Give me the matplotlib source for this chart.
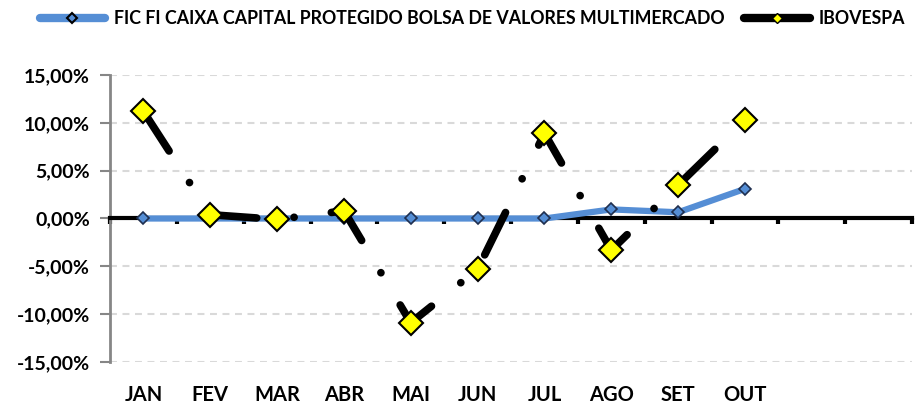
import matplotlib.pyplot as plt
from matplotlib.lines import Line2D
from matplotlib.ticker import FuncFormatter

plt.rcParams['font.family'] = ['Lato', 'DejaVu Sans']
plt.rcParams['font.weight'] = 'bold'
plt.rcParams['lines.scale_dashes'] = False

months = ['JAN', 'FEV', 'MAR', 'ABR', 'MAI', 'JUN', 'JUL', 'AGO', 'SET', 'OUT']
n_slots = 12
fund = [0.0, 0.0, 0.0, 0.0, 0.0, 0.0, 0.0, 0.95, 0.65, 3.1]
ibov = [11.2, 0.4, -0.1, 0.8, -10.9, -5.3, 8.9, -3.3, 3.5, 10.3]
fund_label = 'FIC FI CAIXA CAPITAL PROTEGIDO BOLSA DE VALORES MULTIMERCADO'
ibov_label = 'IBOVESPA'

blue = '#558ED5'

fig = plt.figure(figsize=(9.23, 4.07), dpi=100)
ax = fig.add_axes([0.1192, 0.1106, 0.8690, 0.7051])

x = list(range(len(months)))
ax.plot(x, fund, color=blue, lw=4.5, marker='D', ms=6, mfc=blue, mec='#1F2F4F',
        mew=1.2, zorder=3)
ax.plot(x, ibov, color='black', lw=5.5, dashes=(34, 27, 0.1, 27), dash_capstyle='round',
        marker='D', ms=12.5, mfc='#FFFF00', mec='black', mew=1.5, zorder=4)

ax.set_xlim(-0.5, n_slots - 0.5)
ax.set_ylim(-15, 15)
ax.set_yticks(range(-15, 16, 5))
ax.yaxis.set_major_formatter(FuncFormatter(lambda v, p: f'{v:.2f}%'.replace('.', ',')))
ax.tick_params(axis='y', labelsize=14, colors='#868686', length=7.5, width=1.5, pad=7)
for lab in ax.get_yticklabels():
    lab.set_color('black')
ax.yaxis.grid(True, color='#D9D9D9', ls=(0, (5, 4)), lw=1.5)
ax.set_axisbelow(True)

# zero line acts as the category axis
ax.spines['bottom'].set_position(('data', 0))
ax.spines['bottom'].set_color('black')
ax.spines['bottom'].set_linewidth(3)
ax.spines['left'].set_color('#868686')
ax.spines['left'].set_linewidth(2)
ax.spines['top'].set_visible(False)
ax.spines['right'].set_visible(False)
ax.set_xticks([k - 0.5 for k in range(n_slots + 1)])
ax.set_xticklabels([])
ax.tick_params(axis='x', direction='out', length=4, width=3, color='black')

sec = ax.secondary_xaxis('bottom')
sec.set_xticks(x, months)
sec.tick_params(length=0, pad=16.5, labelsize=14.5)
sec.spines['bottom'].set_visible(False)

handles = [
    Line2D([], [], color=blue, lw=6, marker='D', ms=5.5, mfc=blue, mec='black', mew=1.5,
           solid_capstyle='round'),
    Line2D([], [], color='black', lw=6, marker='D', ms=5.5, mfc='#FFFF00', mec='black', mew=1,
           solid_capstyle='round'),
]
fig.legend(handles, [fund_label, ibov_label], loc='upper center', ncol=2, frameon=False,
           bbox_to_anchor=(0.512, 1.015), fontsize=12.8, handlelength=3.7, columnspacing=1.1,
           handletextpad=0.5)

fig.savefig('out.png', dpi=100)
